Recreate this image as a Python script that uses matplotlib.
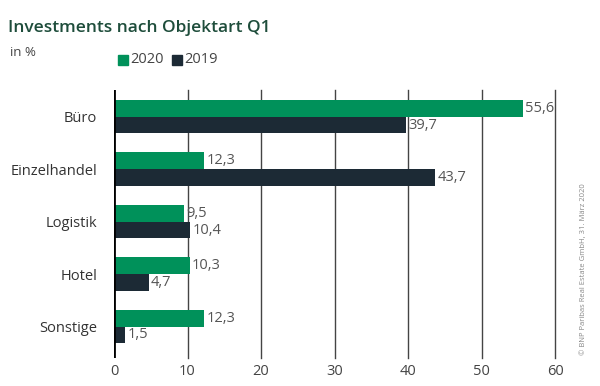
import matplotlib.pyplot as plt
import numpy as np

kategorien = ["Büro", "Einzelhandel", "Logistik", "Hotel", "Sonstige"]
werte_2020 = [55.6, 12.3, 9.5, 10.3, 12.3]
werte_2019 = [39.7, 43.7, 10.4, 4.7, 1.5]
jahre = ["2020", "2019"]
x_ticks = [0, 10, 20, 30, 40, 50, 60]

gruen = "#00915A"
dunkel = "#1C2A35"

plt.rcParams['font.family'] = ['Open Sans', 'DejaVu Sans']

fig = plt.figure(figsize=(6, 3.86), dpi=100)
ax = fig.add_axes([0.19, 0.0725, 0.735, 0.6945])

y = np.arange(len(kategorien))
h = 0.32
ax.barh(y - h / 2, werte_2020, height=h, color=gruen, zorder=3)
ax.barh(y + h / 2, werte_2019, height=h, color=dunkel, zorder=3)

for yi, v in zip(y, werte_2020):
    ax.text(v + 0.3, yi - h / 2, f"{v:.1f}".replace(".", ","), va="center", ha="left",
            fontsize=10.5, color="#555555", zorder=4)
for yi, v in zip(y, werte_2019):
    ax.text(v + 0.3, yi + h / 2, f"{v:.1f}".replace(".", ","), va="center", ha="left",
            fontsize=10.5, color="#555555", zorder=4)

ax.set_xlim(0, 60)
ax.set_ylim(4.6, -0.51)
ax.set_xticks(x_ticks)
ax.set_xticklabels([str(t) for t in x_ticks], fontsize=10.5, color="#444444")
ax.set_yticks(y)
ax.set_yticklabels(kategorien, fontsize=10.5, color="#333333")
ax.tick_params(axis="both", length=0)
ax.tick_params(axis="x", pad=4)
ax.tick_params(axis="y", pad=12)

for t in x_ticks[1:]:
    ax.axvline(t, color="#444444", lw=1, zorder=1, clip_on=False)
ax.axvline(0, color="black", lw=2, zorder=4)
for s in ax.spines.values():
    s.set_visible(False)

fig.text(0.013, 0.928, "Investments nach Objektart Q1", fontsize=12.5, fontweight="semibold",
         color="#1E4D3B", va="center")
fig.text(0.017, 0.863, "in %", fontsize=9.5, color="#444444", va="center")

# Legende
fig.patches.append(plt.Rectangle((0.197, 0.832), 0.016, 0.025, color=gruen, transform=fig.transFigure))
fig.text(0.217, 0.845, jahre[0], fontsize=10.5, color="#444444", va="center")
fig.patches.append(plt.Rectangle((0.287, 0.832), 0.016, 0.025, color=dunkel, transform=fig.transFigure))
fig.text(0.307, 0.845, jahre[1], fontsize=10.5, color="#444444", va="center")

fig.text(0.972, 0.08, "© BNP Paribas Real Estate GmbH, 31. März 2020", rotation=90,
         fontsize=5.5, color="#888888", ha="center", va="bottom")

fig.savefig("out.png", dpi=100, facecolor="white")
